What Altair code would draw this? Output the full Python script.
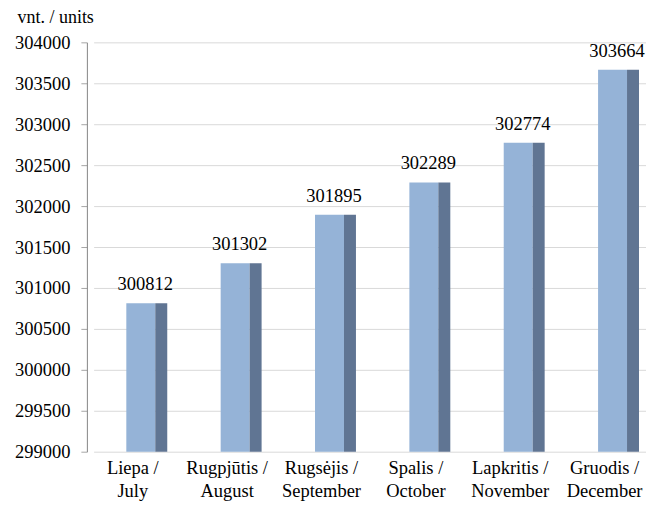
import altair as alt
import pandas as pd

months = ["Liepa /\nJuly", "Rugpjūtis /\nAugust", "Rugsėjis /\nSeptember",
          "Spalis /\nOctober", "Lapkritis /\nNovember", "Gruodis /\nDecember"]
values = [300812, 301302, 301895, 302289, 302774, 303664]
y_ticks = [299000, 299500, 300000, 300500, 301000, 301500, 302000, 302500,
           303000, 303500, 304000]

df = pd.DataFrame({"month": months, "value": values})

FONT = "Liberation Serif"
W, H = 560, 410

xs = alt.X("month:N", sort=months, title=None,
           scale=alt.Scale(range=[6.75, 573.75], paddingInner=0, paddingOuter=0),
           axis=alt.Axis(labelExpr="split(datum.label, '\\n')", labelAngle=0,
                         labelFont=FONT, labelFontSize=18.5, labelColor="black",
                         labelLineHeight=23, labelPadding=7, labelOffset=-8,
                         ticks=False, domain=False, grid=False))
ys = alt.Y("value:Q", title="vnt. / units",
           scale=alt.Scale(domain=[299000, 304000], zero=False, nice=False),
           axis=alt.Axis(values=y_ticks, format="d", labelFont=FONT, labelFontSize=18.5,
                         labelColor="black", labelPadding=11, tickSize=6,
                         tickColor="#a6a6a6", domainColor="#868686",
                         gridColor="#d9d9d9", titleFont=FONT, titleFontSize=18,
                         titleFontWeight="normal", titleColor="black", titleAngle=0,
                         titleAlign="left", titleBaseline="alphabetic",
                         titleX=-70, titleY=-20))

base = alt.Chart(df)
front = base.mark_bar(width=29, color="#95b3d7").encode(
    x=xs, y=ys, y2=alt.Y2(datum=299000))
side = base.mark_bar(width=12, xOffset=20.5, color="#607593").encode(
    x=xs, y=ys, y2=alt.Y2(datum=299000))
text = base.mark_text(font=FONT, fontSize=18.5, baseline="alphabetic", dy=-13,
                      color="black", xOffset=4.5).encode(
    x=xs, y=ys, text=alt.Text("value:Q", format="d"))

chart = alt.layer(front, side, text).properties(
    width=W, height=H,
    autosize=alt.AutoSizeParams(type="none"),
    padding={"left": 79, "top": 34, "right": 0, "bottom": 57},
).configure_view(stroke=None).configure_axis(gridColor="#d9d9d9")

chart.save("out.html", embed_options={"renderer": "svg", "actions": False})
